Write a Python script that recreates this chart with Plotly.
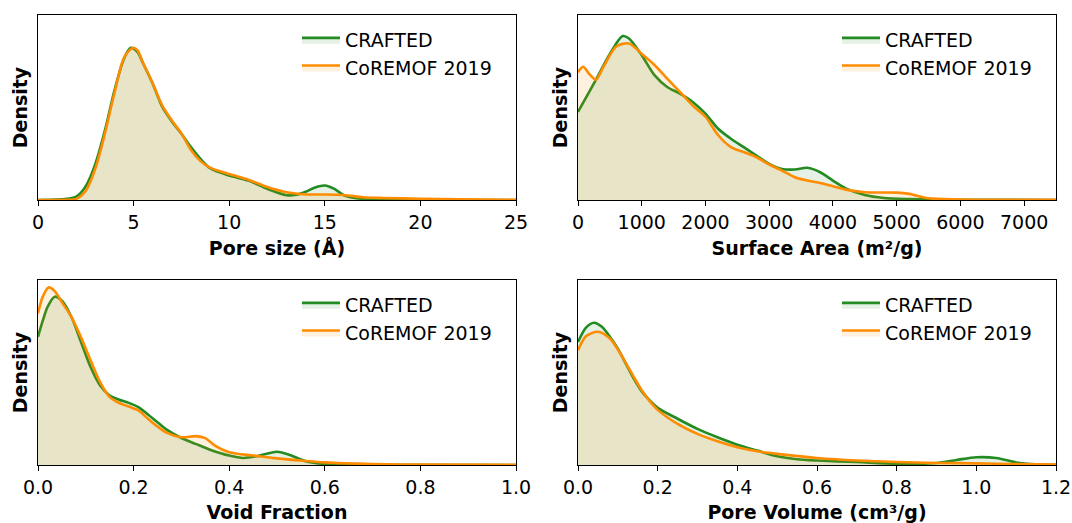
import plotly.graph_objects as go

# ---------------- data (relative density, fraction of panel height) ----------------
pore_x_cr = [0, 1, 1.5, 2, 2.5, 3, 3.5, 4, 4.5, 4.85, 5.2, 5.5, 6, 6.5, 7, 7.5, 8, 8.5, 9, 10, 11, 12, 13, 13.5, 14, 14.5, 15, 15.5, 16, 17, 18, 25]
pore_y_cr = [0, 0.002, 0.006, 0.018, 0.075, 0.195, 0.376, 0.593, 0.765, 0.823, 0.8, 0.738, 0.629, 0.503, 0.425, 0.358, 0.286, 0.222, 0.172, 0.132, 0.105, 0.06, 0.026, 0.028, 0.045, 0.068, 0.078, 0.06, 0.026, 0.005, 0.001, 0]
pore_x_co = [0, 1.5, 2, 2.5, 3, 3.5, 4, 4.5, 4.95, 5.2, 5.5, 6, 6.5, 7, 7.5, 8, 8.5, 9, 10, 11, 12, 13, 14, 15, 16, 17, 18, 20, 22, 25]
pore_y_co = [0, 0.001, 0.006, 0.05, 0.17, 0.36, 0.58, 0.77, 0.822, 0.81, 0.74, 0.63, 0.51, 0.43, 0.36, 0.27, 0.21, 0.175, 0.14, 0.11, 0.07, 0.042, 0.03, 0.03, 0.027, 0.015, 0.011, 0.007, 0.004, 0.001]

sa_x_cr = [0, 250, 500, 700, 800, 1000, 1200, 1400, 1600, 1800, 2000, 2200, 2400, 2600, 2800, 3000, 3200, 3400, 3600, 3800, 4000, 4200, 4500, 4800, 5200, 5600, 6000, 7500]
sa_y_cr = [0.476, 0.63, 0.79, 0.886, 0.873, 0.783, 0.675, 0.611, 0.575, 0.53, 0.467, 0.385, 0.331, 0.286, 0.24, 0.195, 0.168, 0.165, 0.174, 0.15, 0.105, 0.063, 0.027, 0.011, 0.005, 0.002, 0.001, 0]
sa_x_co = [0, 80, 180, 280, 400, 600, 800, 1000, 1200, 1400, 1600, 1800, 2000, 2200, 2400, 2600, 2800, 3000, 3200, 3400, 3600, 3800, 4000, 4200, 4500, 5000, 5200, 5500, 6000, 7500]
sa_y_co = [0.69, 0.72, 0.68, 0.65, 0.72, 0.83, 0.846, 0.79, 0.73, 0.656, 0.584, 0.51, 0.45, 0.35, 0.286, 0.259, 0.231, 0.192, 0.159, 0.123, 0.105, 0.092, 0.074, 0.056, 0.042, 0.04, 0.033, 0.009, 0.003, 0.001]

vf_x_cr = [0, 0.01, 0.02, 0.035, 0.05, 0.07, 0.09, 0.11, 0.13, 0.15, 0.17, 0.19, 0.21, 0.23, 0.25, 0.27, 0.30, 0.33, 0.36, 0.40, 0.43, 0.46, 0.50, 0.53, 0.56, 0.60, 0.70, 1.0]
vf_y_cr = [0.693, 0.78, 0.855, 0.91, 0.888, 0.80, 0.665, 0.53, 0.43, 0.376, 0.353, 0.336, 0.313, 0.273, 0.231, 0.19, 0.146, 0.114, 0.083, 0.051, 0.038, 0.049, 0.072, 0.051, 0.02, 0.005, 0.001, 0]
vf_x_co = [0, 0.01, 0.022, 0.035, 0.05, 0.07, 0.09, 0.11, 0.13, 0.15, 0.17, 0.19, 0.21, 0.23, 0.25, 0.27, 0.30, 0.33, 0.35, 0.37, 0.40, 0.45, 0.50, 0.55, 0.60, 0.70, 0.80, 1.0]
vf_y_co = [0.82, 0.91, 0.96, 0.94, 0.88, 0.80, 0.69, 0.566, 0.448, 0.367, 0.335, 0.316, 0.295, 0.25, 0.208, 0.174, 0.15, 0.156, 0.145, 0.105, 0.069, 0.051, 0.036, 0.024, 0.014, 0.005, 0.002, 0.0005]

pv_x_cr = [0, 0.02, 0.04, 0.06, 0.08, 0.10, 0.12, 0.14, 0.16, 0.18, 0.20, 0.25, 0.30, 0.35, 0.40, 0.45, 0.50, 0.55, 0.60, 0.70, 0.80, 0.90, 0.95, 1.00, 1.05, 1.10, 1.15, 1.2]
pv_y_cr = [0.665, 0.743, 0.769, 0.747, 0.693, 0.629, 0.548, 0.467, 0.398, 0.349, 0.309, 0.25, 0.195, 0.15, 0.11, 0.078, 0.047, 0.031, 0.024, 0.016, 0.007, 0.011, 0.027, 0.042, 0.038, 0.014, 0.004, 0.001]
pv_x_co = [0, 0.02, 0.05, 0.08, 0.10, 0.12, 0.14, 0.16, 0.18, 0.20, 0.25, 0.30, 0.35, 0.40, 0.45, 0.50, 0.60, 0.70, 0.80, 0.90, 1.00, 1.10, 1.2]
pv_y_co = [0.62, 0.696, 0.72, 0.684, 0.624, 0.552, 0.476, 0.404, 0.345, 0.298, 0.222, 0.168, 0.128, 0.096, 0.074, 0.06, 0.038, 0.024, 0.016, 0.011, 0.009, 0.005, 0.002]

series_names = ["CRAFTED", "CoREMOF 2019"]
x_titles = ["Pore size (Å)", "Surface Area (m²/g)", "Void Fraction", "Pore Volume (cm³/g)"]
x_ranges = [[0, 25], [0, 7500], [0, 1.0], [0, 1.2]]
x_tickvals = [[0, 5, 10, 15, 20, 25], [0, 1000, 2000, 3000, 4000, 5000, 6000, 7000],
              [0, 0.2, 0.4, 0.6, 0.8, 1.0], [0, 0.2, 0.4, 0.6, 0.8, 1.0, 1.2]]
x_tickfmt = ["d", "d", ".1f", ".1f"]

panels = [
    ((pore_x_cr, pore_y_cr), (pore_x_co, pore_y_co)),
    ((sa_x_cr, sa_y_cr), (sa_x_co, sa_y_co)),
    ((vf_x_cr, vf_y_cr), (vf_x_co, vf_y_co)),
    ((pv_x_cr, pv_y_cr), (pv_x_co, pv_y_co)),
]

# ---------------- styling ----------------
W, H = 1072, 523
FONT = "DejaVu Sans"
FS = 19
line_colors = ["#228B22", "#FF8C00"]
fill_colors = ["rgba(34,139,34,0.12)", "rgba(255,140,0,0.12)"]

# axes boxes in pixels (left, right, top, bottom)
boxes = [(38, 516, 15, 200), (578, 1056, 15, 200), (38, 516, 280, 465), (578, 1056, 280, 465)]

fig = go.Figure()
layout = dict(
    width=W, height=H, margin=dict(l=0, r=0, t=0, b=0, autoexpand=False),
    paper_bgcolor="white", plot_bgcolor="white",
    font=dict(family=FONT, size=FS, color="black"),
    showlegend=True,
)

for i, (box, pair) in enumerate(zip(boxes, panels)):
    n = "" if i == 0 else str(i + 1)
    xa, ya = "x" + n, "y" + n
    legend_id = "legend" + n
    for j, (xs, ys) in enumerate(pair):
        fig.add_trace(go.Scatter(
            x=xs, y=ys, mode="lines", name=series_names[j],
            line=dict(color=line_colors[j], width=2.6, shape="spline", smoothing=0.8),
            fill="tozeroy", fillcolor=fill_colors[j],
            xaxis=xa, yaxis=ya, legend=legend_id,
        ))
    l, r, t, b = box
    layout["xaxis" + n] = dict(
        domain=[l / W, r / W], range=x_ranges[i], anchor=ya, automargin=False,
        tickvals=x_tickvals[i], tickformat=x_tickfmt[i],
        ticks="outside", ticklen=5, tickwidth=1.2, tickcolor="black",
        showline=True, linecolor="black", linewidth=1.3, mirror=True,
        showgrid=False, zeroline=False,
        tickfont=dict(family=FONT, size=FS),
        title=dict(text=x_titles[i], font=dict(family=FONT, size=FS, weight="bold"), standoff=9),
    )
    layout["yaxis" + n] = dict(
        domain=[1 - b / H, 1 - t / H], range=[0, 1], anchor=xa, automargin=False,
        showticklabels=False, ticks="",
        showline=True, linecolor="black", linewidth=1.3, mirror=True,
        showgrid=False, zeroline=False,
        title=dict(text="Density", font=dict(family=FONT, size=FS, weight="bold"), standoff=4),
    )
    layout[legend_id] = dict(
        x=(l + 259) / W, y=1 - (t + 6) / H, xanchor="left", yanchor="top",
        bgcolor="rgba(0,0,0,0)", font=dict(family=FONT, size=FS),
        tracegroupgap=0, itemwidth=38,
    )

fig.update_layout(**layout)
fig.write_html("out.html")
